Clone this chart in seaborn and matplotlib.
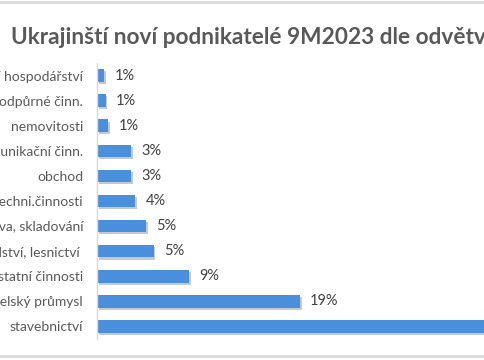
import matplotlib
matplotlib.use("Agg")
import matplotlib.pyplot as plt
import matplotlib.patheffects as pe
import seaborn as sns
import pandas as pd

# Data (share of new Ukrainian entrepreneurs, %)
odvetvi = [
    "odpadní hospodářství",
    "administrativní a podpůrné činn.",
    "nemovitosti",
    "informační a komunikační činn.",
    "obchod",
    "profesní, vědecké a techni.činnosti",
    "doprava, skladování",
    "zemědělství, lesnictví ",
    "ostatní činnosti",
    "zpracovatelský průmysl",
    "stavebnictví",
]
podil = [0.7, 0.8, 1.05, 3.2, 3.2, 3.6, 4.6, 5.3, 8.6, 19.0, 50.0]
popisky = ["1%", "1%", "1%", "3%", "3%", "4%", "5%", "5%", "9%", "19%", "50%"]

df = pd.DataFrame({"odvetvi": odvetvi, "podil": podil})

sns.set_style("white")
plt.rcParams["font.family"] = ["Lato", "DejaVu Sans"]

fig = plt.figure(figsize=(4.85, 3.6), dpi=100)
W, H = 485, 360
# axes extend past the right edge (chart is cropped)
x0, px_per = 97, 10.68
xmax = 56
ax = fig.add_axes([x0 / W, (H - 339) / H, xmax * px_per / W, 276 / H])

sns.barplot(data=df, x="podil", y="odvetvi", orient="h", color="#4a8fdb",
            width=0.5, saturation=1, linewidth=0, ax=ax)
for p in ax.patches:
    p.set_path_effects([pe.SimplePatchShadow(offset=(1.2, -1.5), alpha=0.25), pe.Normal()])

for i, (v, t) in enumerate(zip(podil, popisky)):
    ax.text(v + 0.95, i, t, va="center", ha="left", fontsize=10.5, color="#404040")

ax.set_xlim(0, xmax)
ax.set_ylim(10.5, -0.5)
ax.set_xlabel("")
ax.set_ylabel("")
ax.set_xticks([])
ax.tick_params(axis="y", length=0, pad=10, labelsize=10, labelcolor="#595959")
for s in ["top", "right", "bottom"]:
    ax.spines[s].set_visible(False)
ax.spines["left"].set_color("#d9d9d9")
ax.spines["left"].set_linewidth(1)

fig.text(11 / W, 1 - 37 / H, "Ukrajinští noví podnikatelé 9M2023 dle odvětví",
         fontsize=16.3, fontweight="bold", color="#595959", ha="left", va="center")

# chart border lines
fig.add_artist(plt.Line2D([0, 1], [1 - 1.5 / H, 1 - 1.5 / H], color="#d9d9d9", lw=2))
fig.add_artist(plt.Line2D([0, 1], [1 - 356 / H, 1 - 356 / H], color="#d9d9d9", lw=2))

fig.savefig("out.png", dpi=100)
